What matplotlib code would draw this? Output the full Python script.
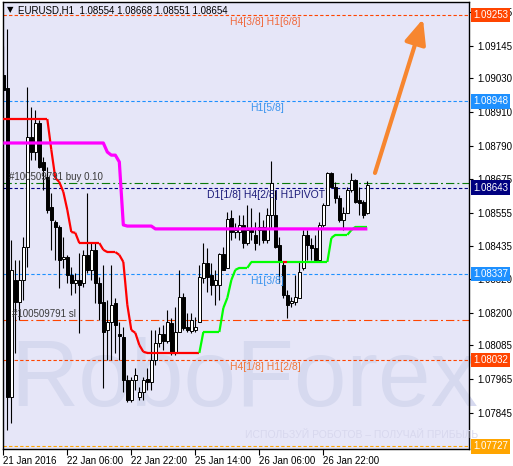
import numpy as np
import matplotlib
matplotlib.use("Agg")
import matplotlib.pyplot as plt
import matplotlib.transforms as mtransforms
from matplotlib.collections import LineCollection

plt.rcParams["font.family"] = ["Liberation Sans", "DejaVu Sans"]
plt.rcParams["lines.scale_dashes"] = False

# EURUSD H1 bars, 21 Jan 2016 14:00 onwards
opens = [1.09042, 1.08996, 1.07902, 1.08316, 1.08239, 1.08316, 1.08433, 1.08823, 1.08769, 1.08872,
         1.08734, 1.08681, 1.08575, 1.08522, 1.08504, 1.08391, 1.08398, 1.08334, 1.08306, 1.08316,
         1.08306, 1.08405, 1.08352, 1.08423, 1.08306, 1.08239, 1.08139, 1.08168, 1.08235, 1.08125,
         1.08115, 1.07962, 1.07892, 1.07962, 1.07902, 1.07920, 1.07966, 1.07955, 1.08033, 1.08093,
         1.08125, 1.08100, 1.08164, 1.08058, 1.08132, 1.08256, 1.08150, 1.08136, 1.08139, 1.08168,
         1.08323, 1.08376, 1.08334, 1.08298, 1.08298, 1.08408, 1.08359, 1.08536, 1.08486, 1.08486,
         1.08511, 1.08447, 1.08493, 1.08476, 1.08493, 1.08504, 1.08458, 1.08546, 1.08546, 1.08440,
         1.08369, 1.08263, 1.08235, 1.08239, 1.08253, 1.08359, 1.08476, 1.08440, 1.08430, 1.08387,
         1.08511, 1.08582, 1.08695, 1.08646, 1.08607, 1.08529, 1.08553, 1.08635, 1.08670, 1.08600,
         1.08592, 1.08554]
highs = [1.09145, 1.09205, 1.08458, 1.08387, 1.08387, 1.08469, 1.08999, 1.08929, 1.08918, 1.08883,
         1.08752, 1.08716, 1.08624, 1.08529, 1.08511, 1.08469, 1.08405, 1.08362, 1.08341, 1.08412,
         1.08423, 1.08624, 1.08447, 1.08447, 1.08327, 1.08369, 1.08246, 1.08369, 1.08253, 1.08168,
         1.08150, 1.07980, 1.07973, 1.08005, 1.07938, 1.07973, 1.08005, 1.08139, 1.08139, 1.08150,
         1.08157, 1.08210, 1.08182, 1.08221, 1.08352, 1.08270, 1.08200, 1.08200, 1.08185, 1.08369,
         1.08447, 1.08430, 1.08376, 1.08352, 1.08412, 1.08433, 1.08557, 1.08564, 1.08518, 1.08546,
         1.08546, 1.08582, 1.08571, 1.08522, 1.08557, 1.08529, 1.08571, 1.08738, 1.08635, 1.08469,
         1.08380, 1.08281, 1.08256, 1.08334, 1.08380, 1.08493, 1.08493, 1.08465, 1.08476, 1.08522,
         1.08589, 1.08699, 1.08699, 1.08663, 1.08617, 1.08575, 1.08646, 1.08695, 1.08674, 1.08646,
         1.08600, 1.08668]
lows = [1.08953, 1.07785, 1.07810, 1.08058, 1.08175, 1.08246, 1.08362, 1.08741, 1.08741, 1.08713,
        1.08635, 1.08553, 1.08423, 1.08387, 1.08288, 1.08359, 1.08306, 1.08263, 1.08270, 1.08129,
        1.08291, 1.08341, 1.08316, 1.08235, 1.08175, 1.07934, 1.08033, 1.08033, 1.08058, 1.08033,
        1.07920, 1.07884, 1.07884, 1.07927, 1.07892, 1.07892, 1.07927, 1.07927, 1.08015, 1.08079,
        1.08069, 1.08093, 1.08051, 1.08051, 1.08132, 1.08139, 1.08132, 1.08129, 1.08132, 1.08168,
        1.08306, 1.08274, 1.08263, 1.08228, 1.08246, 1.08352, 1.08359, 1.08458, 1.08465, 1.08458,
        1.08430, 1.08440, 1.08458, 1.08423, 1.08440, 1.08447, 1.08447, 1.08500, 1.08430, 1.08306,
        1.08253, 1.08182, 1.08221, 1.08228, 1.08253, 1.08352, 1.08387, 1.08387, 1.08387, 1.08380,
        1.08504, 1.08582, 1.08646, 1.08589, 1.08522, 1.08493, 1.08553, 1.08628, 1.08589, 1.08546,
        1.08536, 1.08551]
closes = [1.08989, 1.07902, 1.08352, 1.08239, 1.08316, 1.08433, 1.08823, 1.08769, 1.08872, 1.08716,
          1.08706, 1.08564, 1.08529, 1.08504, 1.08387, 1.08398, 1.08334, 1.08306, 1.08316, 1.08298,
          1.08405, 1.08352, 1.08423, 1.08306, 1.08235, 1.08132, 1.08168, 1.08228, 1.08157, 1.08118,
          1.07962, 1.07892, 1.07962, 1.07980, 1.07920, 1.07962, 1.07955, 1.08033, 1.08093, 1.08125,
          1.08100, 1.08168, 1.08058, 1.08132, 1.08256, 1.08146, 1.08139, 1.08175, 1.08150, 1.08327,
          1.08376, 1.08327, 1.08298, 1.08316, 1.08408, 1.08352, 1.08532, 1.08486, 1.08493, 1.08511,
          1.08447, 1.08493, 1.08486, 1.08447, 1.08504, 1.08458, 1.08546, 1.08660, 1.08433, 1.08380,
          1.08263, 1.08228, 1.08242, 1.08256, 1.08345, 1.08476, 1.08440, 1.08430, 1.08387, 1.08511,
          1.08582, 1.08695, 1.08646, 1.08607, 1.08529, 1.08553, 1.08635, 1.08670, 1.08592, 1.08589,
          1.08546, 1.08654]

# trailing stop line (d = red / above price, u = green / below price)
trail = [1.08886, 1.08886, 1.08886, 1.08886, 1.08886, 1.08886, 1.08886, 1.08886, 1.08886, 1.08886,
         1.08886, 1.08886, 1.08777, 1.08677, 1.08663, 1.08628, 1.08564, 1.08486, 1.08483, 1.08447,
         1.08447, 1.08447, 1.08447, 1.08447, 1.08447, 1.08423, 1.08415, 1.08415, 1.08415, 1.08405,
         1.08380, 1.08228, 1.08139, 1.08129, 1.08086, 1.08062, 1.08058, 1.08058, 1.08058, 1.08058,
         1.08058, 1.08058, 1.08058, 1.08058, 1.08058, 1.08058, 1.08058, 1.08058, 1.08058, 1.08058,
         1.08132, 1.08132, 1.08132, 1.08132, 1.08132, 1.08217, 1.08253, 1.08316, 1.08352, 1.08359,
         1.08359, 1.08359, 1.08380, 1.08380, 1.08380, 1.08380, 1.08380, 1.08380, 1.08380, 1.08380,
         1.08380, 1.08380, 1.08380, 1.08380, 1.08380, 1.08380, 1.08380, 1.08380, 1.08380, 1.08380,
         1.08380, 1.08380, 1.08465, 1.08476, 1.08476, 1.08476, 1.08476, 1.08493, 1.08504, 1.08504,
         1.08504, 1.08504]
trend = list("dddddddddd" "dddddddddd" "dddddddddd" "dddddddddd" "dddddddddd"
             "uuuuuuuuuu" "uuuuuuuuuu" "udu" "uuuuuuu" "uuuuuuuuuu" "uuuuuuuuuu" "uu")

# magenta moving line
magenta = [1.08801, 1.08801, 1.08801, 1.08801, 1.08801, 1.08801, 1.08801, 1.08801, 1.08801, 1.08801,
           1.08801, 1.08801, 1.08801, 1.08801, 1.08801, 1.08801, 1.08801, 1.08801, 1.08801, 1.08801,
           1.08801, 1.08801, 1.08801, 1.08801, 1.08801, 1.08801, 1.08769, 1.08758, 1.08758, 1.08734,
           1.08511, 1.08507, 1.08507, 1.08507, 1.08507, 1.08507, 1.08507, 1.08507, 1.08497, 1.08497,
           1.08497, 1.08497, 1.08497, 1.08497, 1.08497, 1.08497, 1.08497, 1.08497, 1.08497, 1.08497,
           1.08497, 1.08497, 1.08497, 1.08497, 1.08497, 1.08497, 1.08497, 1.08497, 1.08497, 1.08497,
           1.08497, 1.08497, 1.08497, 1.08497, 1.08497, 1.08497, 1.08497, 1.08497, 1.08497, 1.08497,
           1.08497, 1.08497, 1.08497, 1.08497, 1.08497, 1.08497, 1.08497, 1.08497, 1.08497, 1.08497,
           1.08497, 1.08497, 1.08497, 1.08497, 1.08497, 1.08497, 1.08497, 1.08497, 1.08497, 1.08497,
           1.08497, 1.08497]

# horizontal levels: price, colour, kind
levels = [
    (1.09253, "#ff4500", "murrey"),
    (1.08948, "#1e90ff", "murrey"),
    (1.08660, "#0a7a0a", "order"),
    (1.08643, "#000080", "murrey"),
    (1.08337, "#1e90ff", "murrey"),
    (1.08175, "#ff4500", "order"),
    (1.08032, "#ff4500", "murrey"),
    (1.07727, "#ffa500", "murrey"),
]
price_boxes = [1.09253, 1.08948, 1.08643, 1.08337, 1.08032, 1.07727]
box_colors = ["#ff4500", "#1e90ff", "#000080", "#1e90ff", "#ff4500", "#ffa500"]

level_labels = [
    ("H4[3/8] H1[6/8]", 56.7, 1.09253, "#f0683c", "below"),
    ("H1[5/8]", 61.7, 1.08948, "#3a94ee", "below"),
    ("D1[1/8] H4[2/8] H1PIVOT", 50.9, 1.08643, "#1c1c7a", "below"),
    ("H1[3/8]", 61.7, 1.08337, "#3a94ee", "below"),
    ("H4[1/8] H1[2/8]", 56.7, 1.08032, "#f0783c", "below"),
    ("#100509791 buy 0.10", 1.4, 1.08660, "#3a3a3a", "above"),
    ("#100509791 sl", 2.2, 1.08175, "#3a3a3a", "above"),
]

yticks = [1.09265, 1.09145, 1.09030, 1.08910, 1.08790, 1.08675, 1.08555,
          1.08435, 1.08320, 1.08200, 1.08085, 1.07965, 1.07845]
xtick_pos = [0, 16, 32, 48, 64, 80]
xtick_labels = ["21 Jan 2016", "22 Jan 06:00", "22 Jan 22:00",
                "25 Jan 14:00", "26 Jan 06:00", "26 Jan 22:00"]

n = len(closes)
x = np.arange(n)
o = np.array(opens)
c = np.array(closes)

fig = plt.figure(figsize=(5.13, 4.66), dpi=100)
ax = fig.add_axes([3 / 513, 17 / 466, 466 / 513, 447 / 466])
ax.set_facecolor("#e6e6f8")
ax.set_xlim(-0.075, 116.4)
ax.set_ylim(1.07718, 1.09300)

# watermark
ax.text(0.517, 0.15, "RoboForex", transform=ax.transAxes, ha="center", va="center",
        fontsize=68, color="#d6d9ef", zorder=0)
fig.text(362 / 513, 1 - 435 / 466, "ИСПОЛЬЗУЙ РОБОТОВ – ПОЛУЧАЙ ПРИБЫЛЬ",
         ha="center", va="center", fontsize=7.5, color="#d8d8ee", zorder=0)

# levels
for price, col, kind in levels:
    if kind == "murrey":
        ls = (0, (2.4, 1.6))
    else:
        ls = (0, (6.0, 2.2, 1.4, 2.2))
    ax.axhline(price, color=col, lw=0.8, ls=ls, zorder=2)

# candles
ax.vlines(x, lows, highs, color="black", lw=0.8, zorder=4)
body_bottom = np.minimum(o, c)
body_h = np.maximum(np.abs(c - o), 0.000015)
face = ["white" if cl > op else "black" for op, cl in zip(opens, closes)]
ax.bar(x, body_h, bottom=body_bottom, width=0.72, color=face,
       edgecolor="black", linewidth=0.7, zorder=5)

# trailing line
segs = [[(i - 1, trail[i - 1]), (i, trail[i])] for i in range(1, n)]
seg_cols = ["#ff0000" if trend[i] == "d" else "#00ff00" for i in range(1, n)]
ax.add_collection(LineCollection(segs, colors=seg_cols, linewidths=1.6, zorder=6))

ax.plot(x, magenta, color="#ff00ff", lw=2.3, zorder=6, solid_capstyle="butt")

# labels on levels
below = mtransforms.offset_copy(ax.transData, fig=fig, y=-2, units="dots")
above = mtransforms.offset_copy(ax.transData, fig=fig, y=1, units="dots")
for txt, xi, price, col, pos in level_labels:
    if pos == "below":
        ax.text(xi, price, txt, transform=below, va="top", ha="left",
                fontsize=7.5, color=col, zorder=7)
    else:
        ax.text(xi, price, txt, transform=above, va="bottom", ha="left",
                fontsize=7, color=col, zorder=7)

# arrow
ax.annotate("", xy=(104.9, 1.09240), xytext=(92.9, 1.08695),
            arrowprops=dict(arrowstyle="-|>,head_length=1.5,head_width=0.65",
                            color="#f7862f", lw=3, shrinkA=0, shrinkB=0),
            zorder=8)

# header
ax.text(4 / 466, 1 - 8 / 447, "\u25bc", transform=ax.transAxes, ha="left", va="center",
        fontsize=6, family="DejaVu Sans", color="black")
ax.text(15 / 466, 1 - 8 / 447, "EURUSD,H1  1.08554 1.08668 1.08551 1.08654",
        transform=ax.transAxes, ha="left", va="center", fontsize=7, color="black")

# axes
ax.yaxis.tick_right()
ax.set_yticks(yticks)
ax.set_yticklabels([f"{v:.5f}" for v in yticks])
ax.set_xticks(xtick_pos)
ax.set_xticklabels(xtick_labels, ha="left")
ax.tick_params(axis="y", direction="out", length=3, width=0.8, labelsize=7, pad=3)
ax.tick_params(axis="x", direction="out", length=4, width=0.8, labelsize=7, pad=1)
for sp in ax.spines.values():
    sp.set_color("black")
    sp.set_linewidth(1)

# price boxes on the right scale
trans_box = mtransforms.blended_transform_factory(ax.transAxes, ax.transData)
for p, col in zip(price_boxes, box_colors):
    ax.text(1.0 + 4 / 466, p, f"{p:.5f}", transform=trans_box, ha="left", va="center",
            fontsize=7, color="white", zorder=10, clip_on=False,
            bbox=dict(boxstyle="square,pad=0.22", fc=col, ec="none"))

fig.savefig("out.png", dpi=100, facecolor="white")
